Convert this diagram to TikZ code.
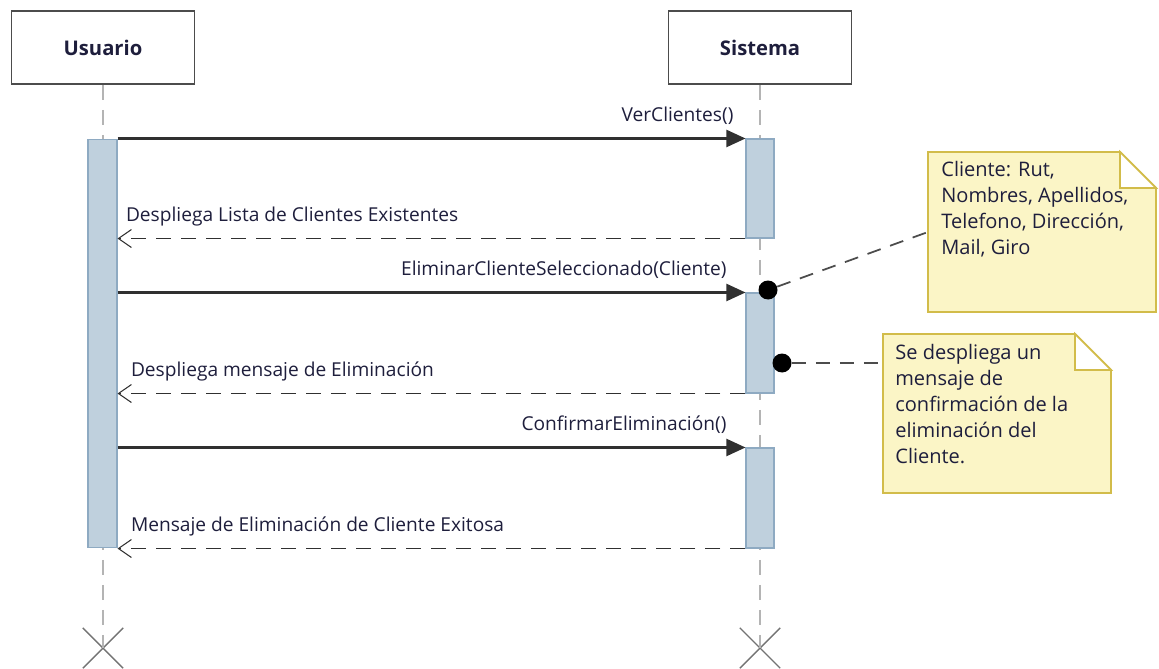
\documentclass[tikz,border=0pt]{standalone}
\usepackage{fontspec}
\setmainfont{Open Sans}
\usetikzlibrary{arrows.meta,shapes.misc,calc}

\definecolor{barfill}{HTML}{BFD0DD}
\definecolor{barline}{HTML}{8EAAC2}
\definecolor{notefill}{HTML}{FBF5C6}
\definecolor{noteline}{HTML}{D2BC4A}
\definecolor{msgline}{HTML}{303030}
\definecolor{lifeline}{HTML}{B4B4B4}
\definecolor{labeltext}{HTML}{1E1E3C}

\begin{document}
\begin{tikzpicture}
  [x=0.02cm, y=-0.02cm,
   headN/.style={rectangle, draw=black!70, line width=1pt, fill=white,
     minimum width=3.66cm, minimum height=1.46cm,
     font=\bfseries\fontsize{11.5}{13}\selectfont, text=labeltext},
   barN/.style={rectangle, draw=barline, fill=barfill, line width=0.6pt,
     inner sep=0pt, minimum width=0.56cm},
   lifeL/.style={draw=lifeline, line width=1.2pt, dash pattern=on 0.3cm off 0.2cm},
   endN/.style={cross out, draw=black!55, line width=0.8pt, minimum size=0.78cm, inner sep=0pt},
   callL/.style={draw=msgline, line width=1.2pt, -{Triangle[length=0.38cm,width=0.34cm]}},
   retL/.style={draw=msgline, line width=1.1pt, dash pattern=on 0.3cm off 0.2cm,
     -{Straight Barb[length=0.26cm,width=0.36cm,line width=0.6pt]}},
   msgT/.style={font=\fontsize{10.9}{13}\selectfont, text=labeltext, inner sep=2pt},
   dotN/.style={circle, fill=black, minimum size=0.38cm, inner sep=0pt},
   linkL/.style={draw=black!70, line width=1pt, dash pattern=on 0.28cm off 0.2cm},
   noteL/.style={draw=noteline, fill=notefill, line width=1pt},
   noteT/.style={align=left, font=\fontsize{11.4}{14.8}\selectfont, text=labeltext, inner sep=0pt}]

  \useasboundingbox (0,0) rectangle (1159,669);

  % lifelines
  \node[headN] (usuario) at (103,47.5) {Usuario};
  \node[headN] (sistema) at (760,47.5) {Sistema};
  \node[endN] (uX) at (103,648) {};
  \node[endN] (sX) at (760,648) {};
  \draw[lifeL] (usuario) -- (uX.center);
  \draw[lifeL] (sistema) -- (sX.center);

  % activations
  \node[barN, minimum width=0.58cm, minimum height=8.18cm] (ubar) at (102.5,343.5) {};
  \node[barN, minimum height=1.98cm] (s1) at (760,188.5) {};
  \node[barN, minimum height=2cm] (s2) at (760,343) {};
  \node[barN, minimum height=2cm] (s3) at (760,498) {};

  % messages
  \draw[callL] (s1.north west -| ubar.east) -- (s1.north west)
    node[msgT, pos=1, anchor=base east, xshift=-0.15cm, yshift=0.34cm] {VerClientes()};
  \draw[retL] (s1.south west) -- (s1.south west -| ubar.east)
    node[msgT, pos=1, anchor=base west, xshift=0.08cm, yshift=0.34cm] {Despliega Lista de Clientes Existentes};
  \draw[callL] (s2.north west -| ubar.east) -- (s2.north west)
    node[msgT, pos=1, anchor=base east, xshift=-0.29cm, yshift=0.34cm] {EliminarClienteSeleccionado(Cliente)};
  \draw[retL] (s2.south west) -- (s2.south west -| ubar.east)
    node[msgT, pos=1, anchor=base west, xshift=0.18cm, yshift=0.34cm] {Despliega mensaje de Eliminación};
  \draw[callL] (s3.north west -| ubar.east) -- (s3.north west)
    node[msgT, pos=1, anchor=base east, xshift=-0.29cm, yshift=0.34cm] {ConfirmarEliminación()};
  \draw[retL] (s3.south west) -- (s3.south west -| ubar.east)
    node[msgT, pos=1, anchor=base west, xshift=0.18cm, yshift=0.34cm] {Mensaje de Eliminación de Cliente Exitosa};

  % notes
  \coordinate (n1a) at (928,152);
  \coordinate (n1b) at (1156,312);
  \coordinate (n2a) at (883,334);
  \coordinate (n2b) at (1111,493);
  \node[dotN] (d1) at (768,290) {};
  \node[dotN] (d2) at (782,363) {};
  \draw[linkL] (d1) -- ($(n1a)+(0,80)$);
  \draw[linkL] (d2) -- (d2 -| n2a);

  \draw[noteL] (n1a) -- ($(n1a -| n1b)+(-36,0)$) -- ($(n1a -| n1b)+(0,36)$)
    -- (n1b) -- (n1b -| n1a) -- cycle;
  \draw[noteL, fill=white] ($(n1a -| n1b)+(-36,0)$) -- ($(n1a -| n1b)+(-36,36)$)
    -- ($(n1a -| n1b)+(0,36)$) -- cycle;
  \node[noteT, anchor=north west] (note1) at (941,161)
    {Cliente: Rut,\\Nombres, Apellidos,\\Telefono, Dirección,\\Mail, Giro};

  \draw[noteL] (n2a) -- ($(n2a -| n2b)+(-36,0)$) -- ($(n2a -| n2b)+(0,36)$)
    -- (n2b) -- (n2b -| n2a) -- cycle;
  \draw[noteL, fill=white] ($(n2a -| n2b)+(-36,0)$) -- ($(n2a -| n2b)+(-36,36)$)
    -- ($(n2a -| n2b)+(0,36)$) -- cycle;
  \node[noteT, anchor=north west] (note2) at (895,344)
    {Se despliega un\\mensaje de\\confirmación de la\\eliminación del\\Cliente.};
\end{tikzpicture}
\end{document}
